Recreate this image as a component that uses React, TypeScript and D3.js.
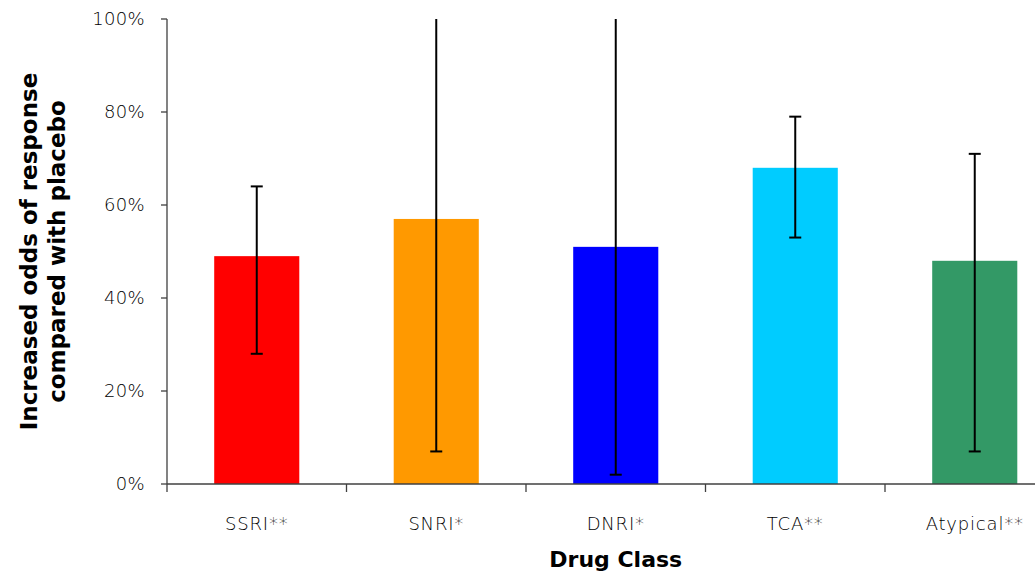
import React from "react";
import * as d3 from "d3";

const categories = ["SSRI**", "SNRI*", "DNRI*", "TCA**", "Atypical**"];
const values = [49, 57, 51, 68, 48];
const lowerCI = [28, 7, 2, 53, 7];
const upperCI = [64, 120, 125, 79, 71];
const colors = ["#FF0000", "#FF9900", "#0000FF", "#00CCFF", "#339966"];
const yTicks = [0, 20, 40, 60, 80, 100];

const W = 1035;
const H = 573;
const left = 167;
const top = 19;
const bottom = 484;
const bandRight = 1064.5;

const App = () => {
  const x = d3
    .scaleBand<string>()
    .domain(categories)
    .range([left, bandRight])
    .paddingInner(0.526)
    .paddingOuter(0.263);
  const y = d3.scaleLinear().domain([0, 100]).range([bottom, top]);
  const step = x.step();
  const font = "'Century Gothic', 'DejaVu Sans', sans-serif";
  const axisColor = "#404040";

  return (
    <svg width={W} height={H} style={{ position: "absolute", left: 0, top: 0 }}>
      <defs>
        <clipPath id="plot">
          <rect x={left} y={top} width={W - left} height={bottom - top} />
        </clipPath>
      </defs>
      <rect width={W} height={H} fill="#fff" />
      {categories.map((c, i) => (
        <rect
          key={c}
          x={x(c)}
          y={y(values[i])}
          width={x.bandwidth()}
          height={bottom - y(values[i])}
          fill={colors[i]}
        />
      ))}
      <g clipPath="url(#plot)" stroke="#000" strokeWidth={2}>
        {categories.map((c, i) => {
          const cx = (x(c) ?? 0) + x.bandwidth() / 2;
          return (
            <g key={c}>
              <line x1={cx} x2={cx} y1={y(lowerCI[i])} y2={y(upperCI[i])} />
              <line x1={cx - 6} x2={cx + 6} y1={y(lowerCI[i])} y2={y(lowerCI[i])} />
              <line x1={cx - 6} x2={cx + 6} y1={y(upperCI[i])} y2={y(upperCI[i])} />
            </g>
          );
        })}
      </g>
      {/* y axis */}
      <line x1={left} x2={left} y1={top} y2={bottom} stroke={axisColor} strokeWidth={1.3} />
      {yTicks.map((t) => (
        <g key={t}>
          <line x1={left - 6} x2={left} y1={y(t)} y2={y(t)} stroke={axisColor} strokeWidth={1.3} />
          <text
            x={left - 22}
            y={y(t)}
            dy="0.35em"
            textAnchor="end"
            fontFamily={font}
            fontSize={18}
            fontWeight={200}
            letterSpacing={0.3}
            fill="#000"
          >
            {t}%
          </text>
        </g>
      ))}
      {/* x axis */}
      <line x1={left} x2={W} y1={bottom} y2={bottom} stroke={axisColor} strokeWidth={1.3} />
      {d3.range(categories.length + 1).map((k) => (
        <line
          key={k}
          x1={left + k * step}
          x2={left + k * step}
          y1={bottom}
          y2={bottom + 8}
          stroke={axisColor}
          strokeWidth={1.3}
        />
      ))}
      {categories.map((c) => (
        <text
          key={c}
          x={(x(c) ?? 0) + x.bandwidth() / 2}
          y={530}
          textAnchor="middle"
          fontFamily={font}
          fontSize={18}
          fontWeight={200}
          letterSpacing={0.8}
          fill="#000"
        >
          {c}
        </text>
      ))}
      <text
        x={(left + bandRight) / 2}
        y={567}
        textAnchor="middle"
        fontFamily={font}
        fontSize={22}
        fontWeight="bold"
        fill="#000"
      >
        Drug Class
      </text>
      <text
        transform={`translate(0, ${(top + bottom) / 2}) rotate(-90)`}
        textAnchor="middle"
        fontFamily={font}
        fontSize={23}
        fontWeight="bold"
        fill="#000"
      >
        <tspan x={0} y={37}>Increased odds of response</tspan>
        <tspan x={0} y={65}>compared with placebo</tspan>
      </text>
    </svg>
  );
};

export default App;
